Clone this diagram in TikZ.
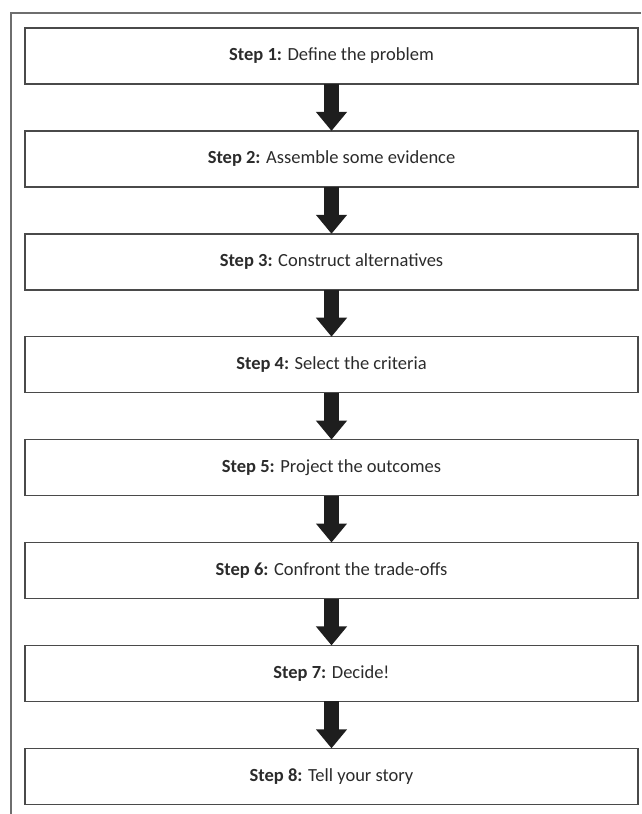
\documentclass[tikz,border=0pt]{standalone}
\usepackage{fontspec}
\setmainfont{Carlito}
\usetikzlibrary{positioning,arrows.meta}
\definecolor{boxline}{HTML}{4A4A4A}
\definecolor{steptext}{HTML}{2B2B2B}
\definecolor{arrowfill}{HTML}{1E1E1E}

\begin{document}
\begin{tikzpicture}[x=1pt,y=-1pt,node distance=46.9pt,
  stepbox/.style={draw=boxline,line width=1.4pt,minimum width=613pt,minimum height=56pt,inner sep=0pt,outer sep=0pt,text=steptext,font=\fontsize{18.5}{22}\selectfont},
  bigarrow/.style={draw=arrowfill,line width=15pt,-{Triangle[length=19pt,width=30pt]}}]
\useasboundingbox (0,0) rectangle (641,814);
% outer frame
\coordinate (frametr) at (641,13);
\coordinate (frametl) at (11,13);
\coordinate (framebl) at (11,814);
\draw[boxline!80,line width=1.2pt] (frametr) -- (frametl) -- (framebl);
% steps
\node[stepbox] (step1) at (331.5,56) {\textbf{Step 1:} Define the problem};
\node[stepbox,below=of step1] (step2) {\textbf{Step 2:} Assemble some evidence};
\node[stepbox,below=of step2] (step3) {\textbf{Step 3:} Construct alternatives};
\node[stepbox,below=of step3] (step4) {\textbf{Step 4:} Select the criteria};
\node[stepbox,below=of step4] (step5) {\textbf{Step 5:} Project the outcomes};
\node[stepbox,below=of step5] (step6) {\textbf{Step 6:} Confront the trade-offs};
\node[stepbox,below=of step6] (step7) {\textbf{Step 7:} Decide!};
\node[stepbox,below=of step7] (step8) {\textbf{Step 8:} Tell your story};
% arrows
\foreach \a/\b in {1/2,2/3,3/4,4/5,5/6,6/7,7/8}
  \draw[bigarrow] (step\a.south) -- (step\b.north);
\end{tikzpicture}
\end{document}
